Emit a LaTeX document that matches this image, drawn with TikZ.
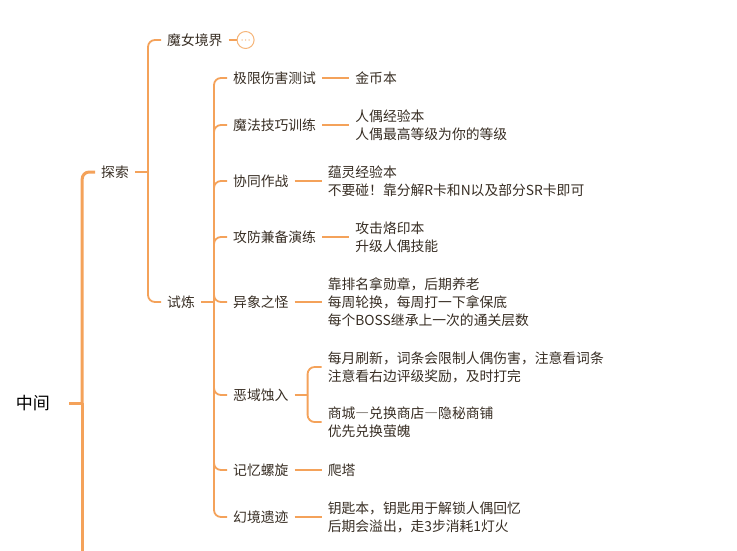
\documentclass[tikz,border=0pt]{standalone}
\usepackage{fontspec}
\setmainfont{Noto Sans CJK SC}
\usetikzlibrary{positioning,calc}
\definecolor{mmorange}{HTML}{F4A25A}
\definecolor{mmfold}{HTML}{F6B579}
\definecolor{mmtext}{RGB}{55,45,35}
\newcommand{\fulldash}{{\addfontfeatures{CharacterWidth=Full}—}}

\begin{document}
\begin{tikzpicture}[x=1pt, y=-1pt,
    topic/.style = {anchor=west, inner xsep=6pt, inner ysep=2pt, text=mmtext, align=left,
                    font=\fontsize{13.8}{18}\selectfont},
    leaf/.style = {topic, right=27pt of #1},
    fold/.style = {circle, draw=mmfold, fill=white, line width=1pt, minimum size=17pt, inner sep=0pt},
    link/.style = {draw=mmorange, line width=1.8pt, rounded corners=7pt},
    rootlink/.style = {link, line width=3pt}]

    \useasboundingbox (0,0) rectangle (737,550);
    \clip (0,0) rectangle (737,550);

    \node[text=black, font=\fontsize{17}{20}\selectfont, inner xsep=19pt] (root) at (33,403) {中间};
    \node[topic] (tansuo) at (95,172) {探索};
    \node[topic] (monv) at (161,40) {魔女境界};
    \node[fold, right=8pt of monv] (monvfold) {};
    \foreach \dx in {-3.5,0,3.5}
        \fill[mmfold] ($(monvfold.center)+(\dx,0)$) circle (0.7pt);
    \node[topic] (shilian) at (161,302) {试炼};

    % trials
    \node[topic] (jixian) at (227,78) {极限伤害测试};
    \node[topic] (mofa) at (227,125) {魔法技巧训练};
    \node[topic] (xietong) at (227,181) {协同作战};
    \node[topic] (gongfang) at (227,237) {攻防兼备演练};
    \node[topic] (yixiang) at (227,302) {异象之怪};
    \node[topic] (eyu) at (227,395) {恶域蚀入};
    \node[topic] (jiyi) at (227,470) {记忆螺旋};
    \node[topic] (huanjing) at (227,517) {幻境遗迹};

    \node[leaf=jixian] (jinbi) {金币本};
    \node[leaf=mofa] (mofanote) {人偶经验本\\人偶最高等级为你的等级};
    \node[leaf=xietong] (xietongnote) {蕴灵经验本\\不要碰！靠分解R卡和N以及部分SR卡即可};
    \node[leaf=gongfang] (gongfangnote) {攻击烙印本\\升级人偶技能};
    \node[leaf=yixiang] (yixiangnote) {靠排名拿勋章，后期养老\\每周轮换，每周打一下拿保底\\每个BOSS继承上一次的通关层数};
    \node[leaf=eyu, yshift=28pt] (eyuword) {每月刷新，词条会限制人偶伤害，注意看词条\\注意看右边评级奖励，及时打完};
    \node[leaf=eyu, yshift=-27pt] (eyushop) {商城\fulldash 兑换商店\fulldash 隐秘商铺\\优先兑换萤魄};
    \node[leaf=jiyi] (jiyinote) {爬塔};
    \node[leaf=huanjing] (huanjingnote) {钥匙本，钥匙用于解锁人偶回忆\\后期会溢出，走3步消耗1灯火};

    % connectors
    \coordinate (rootbar) at ($(root.east)+(13,0)$);
    \coordinate (rootend) at ($(rootbar)+(0,170)$);
    \draw[rootlink] (root.east) -- (rootbar);
    \draw[rootlink] (rootbar) |- (tansuo.west);
    \draw[rootlink] (rootbar) -- (rootend);

    \coordinate (tansuobar) at ($(tansuo.east)+(13,0)$);
    \draw[link] (tansuo.east) -- (tansuobar);
    \draw[link] (tansuobar) |- (monv.west);
    \draw[link] (tansuobar) |- (shilian.west);
    \draw[link] (monv.east) -- (monvfold.west);

    \coordinate (shilianbar) at ($(shilian.east)+(13,0)$);
    \draw[link] (shilian.east) -- (shilianbar);
    \foreach \kid in {jixian,mofa,xietong,gongfang,yixiang,eyu,jiyi,huanjing}
        \draw[link] (shilianbar) |- (\kid.west);

    \foreach \p/\c in {jixian/jinbi, mofa/mofanote, xietong/xietongnote, gongfang/gongfangnote,
                       yixiang/yixiangnote, jiyi/jiyinote, huanjing/huanjingnote}
        \draw[link] (\p.east) -- (\c.west);

    \coordinate (eyubar) at ($(eyu.east)+(13,0)$);
    \draw[link] (eyu.east) -- (eyubar);
    \draw[link] (eyubar) |- (eyuword.west);
    \draw[link] (eyubar) |- (eyushop.west);

\end{tikzpicture}
\end{document}
